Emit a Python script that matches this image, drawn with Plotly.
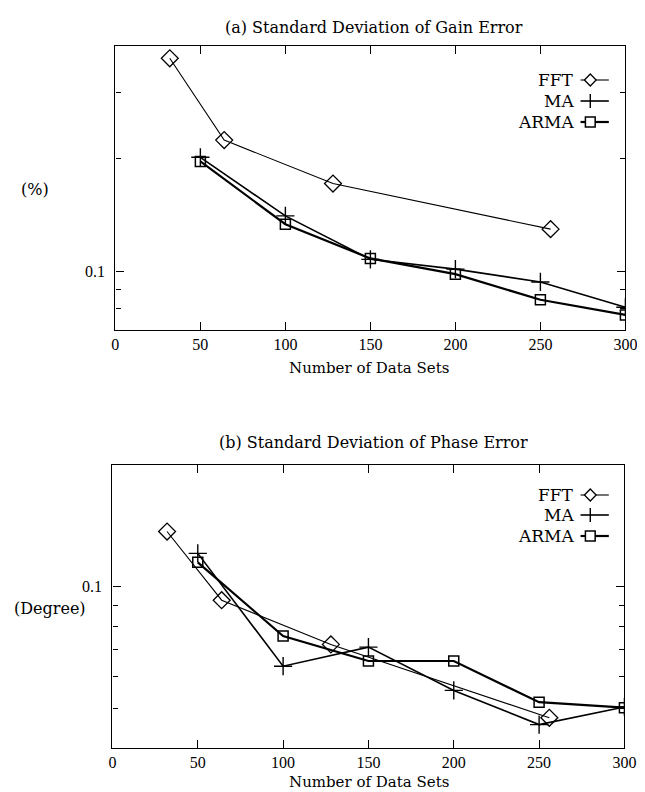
import plotly.graph_objects as go
import numpy as np

W, H = 645, 792

# ---------------- data ----------------
fft_x = [32, 64, 128, 256]
ma_x = [50, 100, 150, 200, 250, 300]
arma_x = [50, 100, 150, 200, 250, 300]

gain_fft = [0.371, 0.2245, 0.172, 0.130]
gain_ma = [0.202, 0.141, 0.108, 0.1017, 0.094, 0.0805]
gain_arma = [0.197, 0.134, 0.1086, 0.0986, 0.0843, 0.0768]

phase_fft = [0.137, 0.0927, 0.0721, 0.0475]
phase_ma = [0.121, 0.0637, 0.0710, 0.0555, 0.0457, 0.0505]
phase_arma = [0.115, 0.0756, 0.0656, 0.0656, 0.0519, 0.0503]

x_ticks = [0, 50, 100, 150, 200, 250, 300]
series_names = ["FFT", "MA", "ARMA"]

FONT = "DejaVu Serif"
TICKFONT = "Liberation Serif"


def px(x):
    return x / W


def py(y):
    return 1 - y / H


fig = go.Figure()

styles = {
    "FFT": dict(line=dict(color="black", width=1.1),
                marker=dict(symbol="diamond-open", size=13, color="black", line=dict(width=1.3))),
    "MA": dict(line=dict(color="black", width=1.6),
               marker=dict(symbol="cross-thin-open", size=13, color="black", line=dict(width=1.4))),
    "ARMA": dict(line=dict(color="black", width=2.2),
                 marker=dict(symbol="square-open", size=10, color="black", line=dict(width=1.5))),
}

panels = [
    ("x", "y", [fft_x, ma_x, arma_x], [gain_fft, gain_ma, gain_arma]),
    ("x2", "y2", [fft_x, ma_x, arma_x], [phase_fft, phase_ma, phase_arma]),
]
for xa, ya, xs, ys in panels:
    for name, xv, yv in zip(series_names, xs, ys):
        fig.add_trace(go.Scatter(x=xv, y=yv, mode="lines+markers", name=name,
                                 xaxis=xa, yaxis=ya, showlegend=False, **styles[name]))

# frames in pixels
frame_a = dict(l=106, r=629, t=38, b=322)
frame_b = dict(l=103, r=628, t=457, b=740)

axis_common = dict(showline=True, linecolor="black", linewidth=1.4, mirror="ticks",
                   ticks="inside", tickcolor="black", ticklen=8, tickwidth=1.2,
                   showgrid=False, zeroline=False,
                   tickfont=dict(family=TICKFONT, size=16, color="black"))

fig.update_layout(
    width=W, height=H, margin=dict(l=0, r=0, t=0, b=0),
    paper_bgcolor="white", plot_bgcolor="white",
    xaxis=dict(domain=[px(frame_a["l"]), px(frame_a["r"])], range=[0, 300],
               tickvals=x_ticks, anchor="y", **axis_common),
    yaxis=dict(domain=[py(frame_a["b"]), py(frame_a["t"])], type="log",
               range=[np.log10(0.07), np.log10(0.4)], tickvals=[0.1], ticktext=["0.1"],
               anchor="x", ticklabelstandoff=6,
               minor=dict(tickvals=[0.08, 0.09, 0.2, 0.3], ticks="inside", ticklen=5,
                          tickcolor="black", tickwidth=1.2),
               **axis_common),
    xaxis2=dict(domain=[px(frame_b["l"]), px(frame_b["r"])], range=[0, 300],
                tickvals=x_ticks, anchor="y2", **axis_common),
    yaxis2=dict(domain=[py(frame_b["b"]), py(frame_b["t"])], type="log",
                range=[np.log10(0.04), np.log10(0.2)], tickvals=[0.1], ticktext=["0.1"],
                anchor="x2", ticklabelstandoff=6,
                minor=dict(tickvals=[0.05, 0.06, 0.07, 0.08, 0.09], ticks="inside", ticklen=5,
                           tickcolor="black", tickwidth=1.2),
                **axis_common),
)

annotations = []


def text(x, y, s, size=16, xanchor="center"):
    annotations.append(dict(x=px(x), y=py(y), xref="paper", yref="paper", text=s,
                            showarrow=False, xanchor=xanchor, yanchor="middle",
                            font=dict(family=FONT, size=size, color="black")))


text(371, 19, "(a) Standard Deviation of Gain Error")
text(371, 435, "(b) Standard Deviation of Phase Error")
text(366, 360, "Number of Data Sets", size=15)
text(366, 774, "Number of Data Sets", size=15)
text(24, 182, "(%)")
text(39, 600, "(Degree)")

shapes = []


def legend(rows):
    for name, yy in zip(series_names, rows):
        text(578, yy, name, size=17, xanchor="right")
        w = styles[name]["line"]["width"]
        shapes.append(dict(type="line", xref="paper", yref="paper",
                           x0=px(583), x1=px(612), y0=py(yy), y1=py(yy),
                           line=dict(color="black", width=w)))
        cx, cy = 593, yy
        if name == "FFT":
            s = 6
            path = (f"M {px(cx - s)} {py(cy)} L {px(cx)} {py(cy - s)} L {px(cx + s)} {py(cy)} "
                    f"L {px(cx)} {py(cy + s)} Z")
            shapes.append(dict(type="path", xref="paper", yref="paper", path=path,
                               fillcolor="white", line=dict(color="black", width=1.3)))
        elif name == "MA":
            s = 7
            shapes.append(dict(type="line", xref="paper", yref="paper",
                               x0=px(cx), x1=px(cx), y0=py(cy - s), y1=py(cy + s),
                               line=dict(color="black", width=1.4)))
        else:
            s = 5
            shapes.append(dict(type="rect", xref="paper", yref="paper",
                               x0=px(cx - s), x1=px(cx + s), y0=py(cy - s), y1=py(cy + s),
                               fillcolor="white", line=dict(color="black", width=1.5)))


legend([72, 93, 114])
legend([487, 507, 528])

fig.update_layout(annotations=annotations, shapes=shapes)

fig.write_html("out.html")
